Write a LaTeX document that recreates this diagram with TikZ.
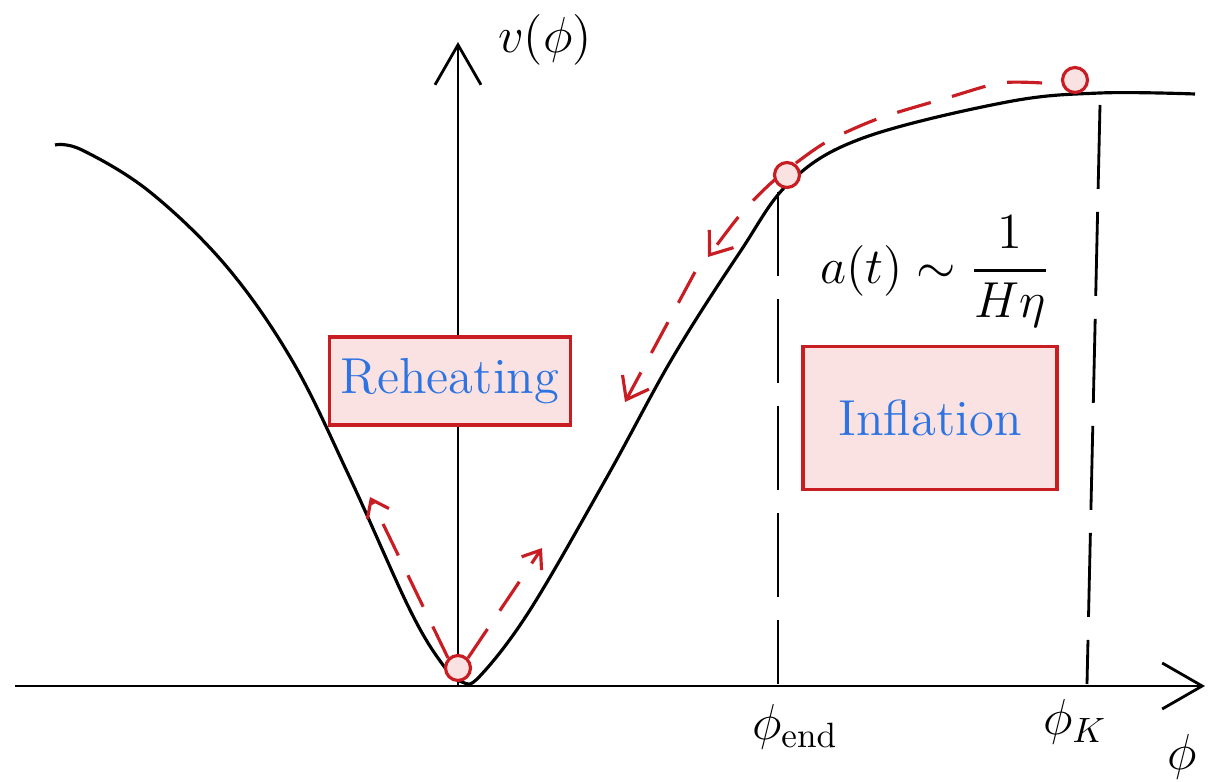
\documentclass[tikz,border=0pt]{standalone}
\usepackage{amsmath}
\usepackage{amssymb}
\usepackage{xcolor}
\usepackage{tikz}
\usetikzlibrary{arrows.meta}

\definecolor{penred}{RGB}{200,30,35}
\definecolor{boxpink}{RGB}{250,226,226}
\definecolor{penblue}{RGB}{45,115,225}

\tikzset{
  ball/.style={circle, draw=penred, fill=boxpink, line width=0.9pt, minimum size=2.5mm, inner sep=0pt},
  regionbox/.style={draw=penred, fill=boxpink, line width=0.9pt, text=penblue, font=\Large},
  roll/.style={penred, line width=0.9pt, dash pattern=on 3.5mm off 2.2mm,
    -{Straight Barb[length=2mm,width=3mm]}},
  guide/.style={line width=0.8pt, dash pattern=on 8.4mm off 2.3mm},
  axisarrow/.style={line width=0.8pt, -{Straight Barb[length=4mm,width=4.6mm]}},
}

\begin{document}
\begin{tikzpicture}[x=0.1mm, y=-0.1mm]
  \useasboundingbox (0,0) rectangle (1208,782);
  % axes
  \coordinate (xstart) at (15,686);
  \coordinate (xend) at (1205,686);
  \coordinate (origin) at (458,686);
  \coordinate (ytop) at (458,42);
  \draw[axisarrow] (xstart) -- (xend);
  \draw[axisarrow] (origin) -- (ytop);
  \node (vlabel) at (545,40) {\Large $v(\phi)$};
  \node (philabel) at (1182,757) {\Large $\phi$};
  % potential
  \draw[line width=0.9pt] plot[smooth, tension=0.6] coordinates {
    (55,145) (82,150) (150,192) (227,267) (293,362) (350,478) (410,610)
    (443,665) (462,682) (480,676) (530,610) (607,477) (673,357) (740,252)
    (790,182) (863,138) (1007,102) (1100,93) (1195,94)};
  % end of inflation and horizon exit
  \coordinate (endtop) at (778,192);
  \coordinate (endbot) at (778,684);
  \coordinate (ktop) at (1100,105);
  \coordinate (kbot) at (1087,684);
  \draw[guide] (endtop) -- (endbot);
  \draw[guide] (ktop) -- (kbot);
  \node (phiend) at (795,727) {\Large $\phi_{\mathrm{end}}$};
  \node (phik) at (1075,722) {\Large $\phi_K$};
  % scale factor
  \node (scalefac) at (935,272) {\Large $a(t)\sim\dfrac{1}{H\eta}$};
  % regions
  \node[regionbox, minimum width=23mm, minimum height=8.8mm] (reheat) at (450,381) {Reheating};
  \node[regionbox, minimum width=25.4mm, minimum height=14.3mm] (infl) at (930,418) {Inflation};
  % rolling field
  \coordinate (slow1) at (708,257);
  \coordinate (slow2) at (695,272);
  \coordinate (slow3) at (625,402);
  \coordinate (osc1) at (370,497);
  \coordinate (osc2) at (542,548);
  \draw[roll] plot[smooth] coordinates {(1042,83) (1000,83) (950,97) (880,118)
    (830,140) (800,160) (770,184) (740,215) (708,257)};
  \draw[roll] (slow2) -- (slow3);
  \node[ball] (bmin) at (458,668) {};
  \node[ball] (bend) at (787,175) {};
  \node[ball] (bk) at (1075,80) {};
  \draw[roll, -{Straight Barb[length=1.6mm,width=2.4mm]}] (bmin.north west) -- (osc1);
  \draw[roll, -{Straight Barb[length=1.6mm,width=2.4mm]}] (bmin.north east) -- (osc2);
\end{tikzpicture}
\end{document}
